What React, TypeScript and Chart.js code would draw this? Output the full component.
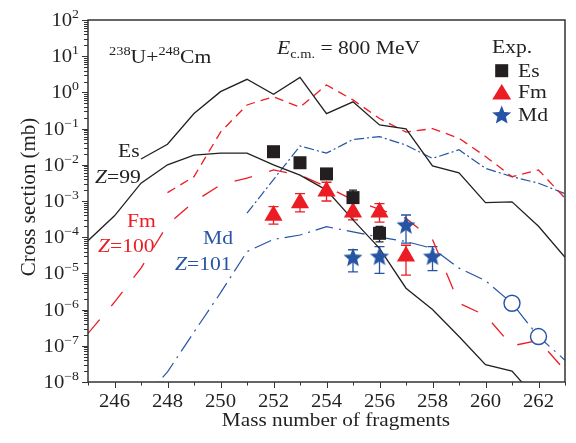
import React, { useEffect, useRef } from 'react';
import { Chart, registerables } from 'chart.js';

Chart.register(...registerables);

// ---------------- data ----------------
const esUpperMass = [247, 248, 249, 250, 251, 252, 253, 254, 255, 256, 257, 258, 259, 260, 261, 262, 263];
const esUpperVal = [0.0145, 0.037, 0.26, 1.05, 2.3, 0.89, 2.6, 0.26, 0.55, 0.126, 0.098, 0.0093, 0.006, 0.0009, 0.00095, 2e-4, 2.8e-5];

const esLowerMass = [245, 246, 247, 248, 249, 250, 251, 252, 253, 254, 255, 256, 257, 258, 259, 260, 261, 262];
const esLowerVal = [8e-5, 3.9e-4, 3.1e-3, 0.01, 0.0186, 0.021, 0.021, 0.01, 0.0052, 0.002, 3e-4, 4.9e-5, 3.9e-6, 1e-6, 1.8e-7, 3e-8, 2e-8, 3e-9];

const fmUpperMass = [248, 249, 250, 251, 252, 253, 254, 255, 256, 257, 258, 259, 260, 261, 262, 263];
const fmUpperVal = [0.0017, 0.0047, 0.08, 0.45, 0.76, 0.39, 1.6, 0.62, 0.19, 0.08, 0.1, 0.054, 0.017, 0.0047, 0.0072, 0.0012];

const fmLowerMass = [245, 246, 247, 248, 249, 250, 251, 252, 253, 254, 255, 256, 257, 258, 259, 260, 261, 262, 263];
const fmLowerVal = [2.2e-7, 1.6e-6, 1.4e-5, 2.2e-4, 9.5e-4, 2.8e-3, 4.3e-3, 7.2e-3, 5.2e-3, 2.5e-3, 1.07e-3, 5.9e-4, 3.3e-4, 8.7e-5, 1.5e-6, 6.9e-7, 1e-7, 1.4e-7, 2.1e-8];

const mdUpperMass = [251, 252, 253, 254, 255, 256, 257, 258, 259, 260, 261, 262, 263];
const mdUpperVal = [4.6e-4, 0.0039, 0.033, 0.021, 0.05, 0.06, 0.035, 0.015, 0.026, 0.008, 0.0047, 0.0031, 0.0016];

const mdLowerMass = [247, 248, 249, 250, 251, 252, 253, 254, 255, 256, 257, 258, 259, 260, 261, 262, 263];
const mdLowerVal = [3e-9, 1.9e-8, 2.4e-7, 2.9e-6, 4e-5, 8.7e-5, 1.15e-4, 1.95e-4, 1.4e-4, 1.0e-4, 7.6e-5, 4.9e-5, 1.4e-5, 6.3e-6, 1.5e-6, 1.8e-7, 4e-8];

const mdCircleMass = [261, 262];
const mdCircleVal = [1.5e-6, 1.8e-7];

// experimental points
const esExpMass = [252, 253, 254, 255, 256];
const esExpVal = [0.023, 0.0114, 0.0056, 1.24e-3, 1.28e-4];
const esExpLow = [0.018, 0.009, 0.0042, 6e-4, 7.4e-5];
const esExpHigh = [0.029, 0.0145, 0.0075, 2e-3, 2e-4];

const fmExpMass = [252, 253, 254, 255, 256, 257];
const fmExpVal = [4.0e-4, 8.8e-4, 1.85e-3, 4.9e-4, 4.9e-4, 3.0e-5];
const fmExpLow = [2.3e-4, 5e-4, 1.0e-3, 3e-4, 2.6e-4, 9e-6];
const fmExpHigh = [7e-4, 1.6e-3, 3.3e-3, 9e-4, 8.5e-4, 6e-5];

const mdExpMass = [255, 256, 257, 258];
const mdExpVal = [2.8e-5, 3.0e-5, 2.2e-4, 3.0e-5];
const mdExpLow = [1.1e-5, 1.0e-5, 6.9e-5, 1.2e-5];
const mdExpHigh = [4.5e-5, 5.5e-5, 4.1e-4, 5.5e-5];

// axis ticks
const yTickExps = [2, 1, 0, -1, -2, -3, -4, -5, -6, -7, -8];
const xTickLabels = [246, 248, 250, 252, 254, 256, 258, 260, 262];
const xMin = 245;
const xMax = 263;

// ---------------- styles ----------------
const BLACK = '#231f20';
const RED = '#ec1c24';
const BLUE = '#2654a4';
const SERIF = '"Liberation Serif", "Times New Roman", serif';
const SX = 1.2;

type Run = { t: string; size: number; dy?: number; italic?: boolean };

function fontOf(r: Run) {
  return `${r.italic ? 'italic ' : ''}${r.size}px ${SERIF}`;
}

function runsWidth(ctx: CanvasRenderingContext2D, runs: Run[], sx: number) {
  let w = 0;
  for (const r of runs) {
    ctx.font = fontOf(r);
    w += ctx.measureText(r.t).width * sx;
  }
  return w;
}

function drawRuns(
  ctx: CanvasRenderingContext2D,
  x: number,
  y: number,
  runs: Run[],
  color: string,
  align: 'left' | 'right' | 'center' = 'left',
  sx: number = SX
) {
  const total = runsWidth(ctx, runs, sx);
  let cx = align === 'right' ? x - total : align === 'center' ? x - total / 2 : x;
  for (const r of runs) {
    ctx.save();
    ctx.font = fontOf(r);
    ctx.fillStyle = color;
    ctx.textAlign = 'left';
    ctx.textBaseline = 'alphabetic';
    const w = ctx.measureText(r.t).width;
    ctx.translate(cx, y + (r.dy || 0));
    ctx.scale(sx, 1);
    ctx.fillText(r.t, 0, 0);
    ctx.restore();
    cx += w * sx;
  }
}

function starPath(ctx: CanvasRenderingContext2D, cx: number, cy: number, R: number, r: number) {
  ctx.beginPath();
  for (let i = 0; i < 10; i++) {
    const a = -Math.PI / 2 + (i * Math.PI) / 5;
    const rad = i % 2 === 0 ? R : r;
    const px = cx + Math.cos(a) * rad;
    const py = cy + Math.sin(a) * rad;
    if (i === 0) ctx.moveTo(px, py);
    else ctx.lineTo(px, py);
  }
  ctx.closePath();
}

function makeStar(): HTMLCanvasElement {
  const c = document.createElement('canvas');
  c.width = 22;
  c.height = 22;
  const g = c.getContext('2d')!;
  g.fillStyle = BLUE;
  starPath(g, 11, 11.8, 10, 4.4);
  g.fill();
  return c;
}

function pts(ms: number[], vs: number[]) {
  return ms.map((m, i) => ({ x: m, y: vs[i] }));
}

const overlay = {
  id: 'overlay',
  beforeDatasetsDraw(chart: any) {
    const ctx: CanvasRenderingContext2D = chart.ctx;
    const xs = chart.scales.x;
    const ys = chart.scales.y;
    const bars = (ms: number[], lo: number[], hi: number[], color: string, cap: number) => {
      ctx.save();
      ctx.strokeStyle = color;
      ctx.lineWidth = 1.3;
      ms.forEach((m, i) => {
        const px = xs.getPixelForValue(m);
        const y1 = ys.getPixelForValue(lo[i]);
        const y2 = ys.getPixelForValue(hi[i]);
        ctx.beginPath();
        ctx.moveTo(px, y1);
        ctx.lineTo(px, y2);
        ctx.moveTo(px - cap / 2, y1);
        ctx.lineTo(px + cap / 2, y1);
        ctx.moveTo(px - cap / 2, y2);
        ctx.lineTo(px + cap / 2, y2);
        ctx.stroke();
      });
      ctx.restore();
    };
    bars(mdExpMass, mdExpLow, mdExpHigh, BLUE, 10);
    bars(fmExpMass, fmExpLow, fmExpHigh, RED, 10);
    bars(esExpMass, esExpLow, esExpHigh, BLACK, 8);
  },
  afterDraw(chart: any) {
    const ctx: CanvasRenderingContext2D = chart.ctx;
    const xs = chart.scales.x;
    const ys = chart.scales.y;
    const a = chart.chartArea;

    // frame
    ctx.save();
    ctx.strokeStyle = '#333';
    ctx.lineWidth = 1.5;
    ctx.strokeRect(a.left, a.top, a.right - a.left, a.bottom - a.top);

    // y ticks (outside, left)
    ctx.lineWidth = 1;
    ctx.beginPath();
    for (const e of yTickExps) {
      const y = Math.round(ys.getPixelForValue(Math.pow(10, e))) + 0.5;
      ctx.moveTo(a.left - 6, y);
      ctx.lineTo(a.left, y);
      if (e > -8) {
        for (let k = 2; k <= 9; k++) {
          const ym = Math.round(ys.getPixelForValue(k * Math.pow(10, e - 1))) + 0.5;
          ctx.moveTo(a.left - 4, ym);
          ctx.lineTo(a.left, ym);
        }
      }
    }
    // x ticks (outside, bottom)
    for (let m = xMin; m <= xMax; m++) {
      const x = Math.round(xs.getPixelForValue(m)) + 0.5;
      const len = m % 2 === 0 ? 6 : 3.5;
      ctx.moveTo(x, a.bottom);
      ctx.lineTo(x, a.bottom + len);
    }
    ctx.stroke();
    ctx.restore();

    // y tick labels
    for (const e of yTickExps) {
      const y = ys.getPixelForValue(Math.pow(10, e));
      const ex = e < 0 ? '\u2212' + Math.abs(e) : String(e);
      drawRuns(ctx, 79, y + 6, [
        { t: '10', size: 18 },
        { t: ex, size: 12, dy: -8 },
      ], BLACK, 'right', 1.15);
    }
    // x tick labels
    for (const m of xTickLabels) {
      const x = xs.getPixelForValue(m);
      drawRuns(ctx, x, 407, [{ t: String(m), size: 18 }], BLACK, 'center', 1.15);
    }
    // x title
    drawRuns(ctx, 336, 426, [{ t: 'Mass number of fragments', size: 18 }], BLACK, 'center', 1.18);
    // y title
    ctx.save();
    ctx.translate(35, 197);
    ctx.rotate(-Math.PI / 2);
    ctx.font = `21px ${SERIF}`;
    ctx.fillStyle = BLACK;
    ctx.textAlign = 'center';
    ctx.textBaseline = 'alphabetic';
    ctx.fillText('Cross section (mb)', 0, 0);
    ctx.restore();

    // annotations
    drawRuns(ctx, 109, 63, [
      { t: '238', size: 12, dy: -8 },
      { t: 'U+', size: 18 },
      { t: '248', size: 12, dy: -8 },
      { t: 'Cm', size: 18 },
    ], BLACK);
    drawRuns(ctx, 277, 54, [
      { t: 'E', size: 18, italic: true },
      { t: 'c.m.', size: 12, dy: 4 },
      { t: ' = 800 MeV', size: 18 },
    ], BLACK);
    drawRuns(ctx, 118, 157, [{ t: 'Es', size: 18 }], BLACK);
    drawRuns(ctx, 95, 183, [{ t: 'Z', size: 18, italic: true }, { t: '=99', size: 18 }], BLACK);
    drawRuns(ctx, 127, 227, [{ t: 'Fm', size: 18 }], RED);
    drawRuns(ctx, 98, 252, [{ t: 'Z', size: 18, italic: true }, { t: '=100', size: 18 }], RED);
    drawRuns(ctx, 203, 244, [{ t: 'Md', size: 18 }], BLUE);
    drawRuns(ctx, 175, 270, [{ t: 'Z', size: 18, italic: true }, { t: '=101', size: 18 }], BLUE);

    // legend
    drawRuns(ctx, 492, 53, [{ t: 'Exp.', size: 18 }], BLACK);
    ctx.save();
    ctx.fillStyle = BLACK;
    ctx.fillRect(495.2, 64.2, 13, 13);
    ctx.fillStyle = RED;
    ctx.beginPath();
    ctx.moveTo(501.7, 84);
    ctx.lineTo(511.2, 99.5);
    ctx.lineTo(492.2, 99.5);
    ctx.closePath();
    ctx.fill();
    ctx.fillStyle = BLUE;
    starPath(ctx, 501.7, 115.5, 10, 4.4);
    ctx.fill();
    ctx.restore();
    drawRuns(ctx, 518, 77, [{ t: 'Es', size: 18 }], BLACK);
    drawRuns(ctx, 518, 98, [{ t: 'Fm', size: 18 }], BLACK);
    drawRuns(ctx, 518, 121, [{ t: 'Md', size: 18 }], BLACK);
  },
};

export default function App() {
  const ref = useRef<HTMLCanvasElement>(null);

  useEffect(() => {
    const canvas = ref.current;
    if (!canvas) return;
    const star = makeStar();

    const line = (ms: number[], vs: number[], color: string, dash: number[], width = 1.3) => ({
      data: pts(ms, vs),
      showLine: true,
      borderColor: color,
      backgroundColor: color,
      borderWidth: width,
      borderDash: dash,
      pointRadius: 0,
      tension: 0,
      fill: false,
    });

    const chart = new Chart(canvas, {
      type: 'scatter',
      data: {
        datasets: [
          {
            data: pts(esExpMass, esExpVal),
            pointStyle: 'rect',
            pointRadius: 9.2,
            backgroundColor: BLACK,
            borderColor: BLACK,
            borderWidth: 0,
            showLine: false,
          },
          {
            data: pts(fmExpMass, fmExpVal),
            pointStyle: 'triangle',
            pointRadius: 10.5,
            backgroundColor: RED,
            borderColor: RED,
            borderWidth: 0,
            showLine: false,
          },
          {
            data: pts(mdExpMass, mdExpVal),
            pointStyle: star as any,
            pointRadius: 10,
            backgroundColor: BLUE,
            borderColor: BLUE,
            showLine: false,
          },
          {
            data: pts(mdCircleMass, mdCircleVal),
            pointStyle: 'circle',
            pointRadius: 8,
            backgroundColor: '#ffffff',
            borderColor: BLUE,
            borderWidth: 1.4,
            showLine: false,
          },
          line(esUpperMass, esUpperVal, BLACK, []),
          line(esLowerMass, esLowerVal, BLACK, []),
          line(fmUpperMass, fmUpperVal, RED, [9, 6]),
          line(fmLowerMass, fmLowerVal, RED, [18, 18]),
          line(mdUpperMass, mdUpperVal, BLUE, [10, 3, 2, 3], 1.2),
          line(mdLowerMass, mdLowerVal, BLUE, [18, 6, 2, 6], 1.2),
        ] as any,
      },
      options: {
        responsive: false,
        animation: false,
        devicePixelRatio: 1,
        events: [],
        layout: { padding: { left: 88, right: 2, top: 20, bottom: 61 } },
        plugins: {
          legend: { display: false },
          tooltip: { enabled: false },
        },
        scales: {
          x: { type: 'linear', min: xMin, max: xMax, display: false },
          y: { type: 'logarithmic', min: 1e-8, max: 100, display: false },
        },
      } as any,
      plugins: [overlay],
    });

    return () => chart.destroy();
  }, []);

  return (
    <div style={{ position: 'fixed', left: 0, top: 0, width: 576, height: 443, background: '#ffffff' }}>
      <canvas ref={ref} width={576} height={443} style={{ display: 'block', width: 576, height: 443 }} />
    </div>
  );
}
